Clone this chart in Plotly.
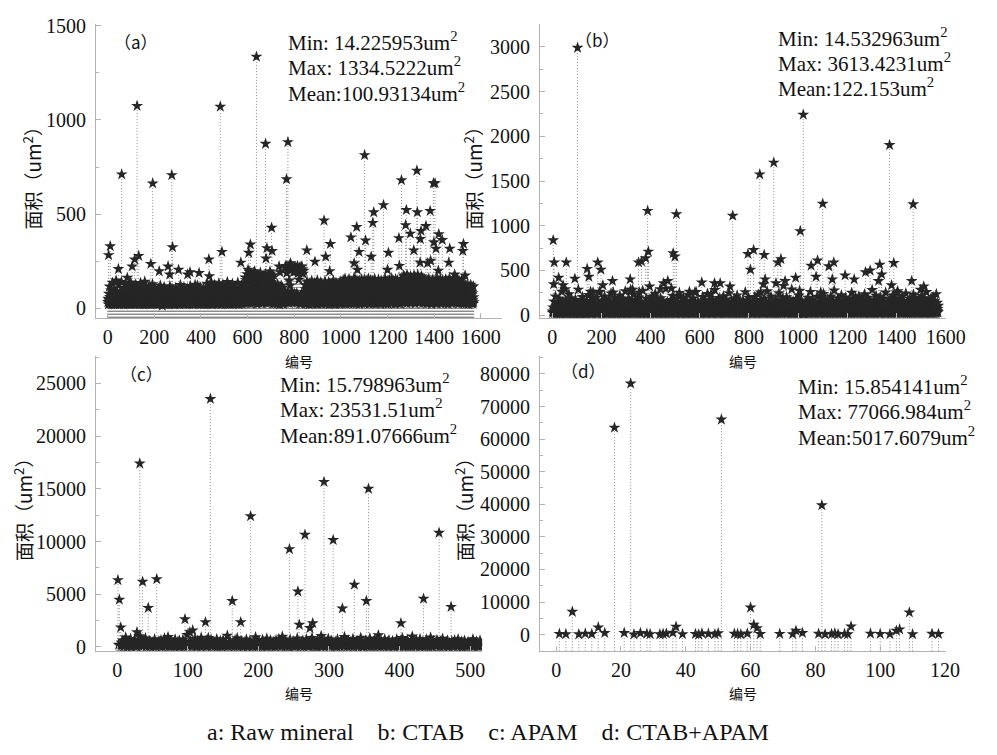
import plotly.graph_objects as go

W, H = 997, 755

# ---------------- (a) Raw mineral: particle areas (um^2) by particle number ----------------
a_large_id = [4, 11, 46, 60, 84, 105, 116, 126, 133, 185, 193, 221, 259, 266, 275, 278, 304, 343, 353, 392,
              434, 436, 483, 490, 571, 602, 605, 612, 630, 638, 677, 679, 683, 697, 703, 705, 735, 739, 767, 773,
              784, 833, 854, 889, 928, 935, 952, 955, 1043, 1057, 1068, 1071, 1078, 1102, 1106, 1130, 1137, 1141, 1183, 1200,
              1204, 1249, 1251, 1260, 1278, 1281, 1298, 1313, 1326, 1328, 1340, 1341, 1344, 1365, 1372, 1383, 1385, 1397, 1399, 1404,
              1408, 1418, 1420, 1435, 1463, 1467, 1488, 1523, 1526, 1533]
a_large_area = [283, 330, 209, 711, 163, 223, 260, 1074, 279, 236, 663, 197, 223, 180, 707, 325, 205, 180, 192, 188,
                260, 171, 1070, 300, 243, 205, 295, 339, 197, 1334.5222, 873, 265, 320, 180, 428, 305, 223, 192, 685, 882,
                240, 223, 308, 248, 466, 274, 197, 342, 377, 240, 432, 205, 300, 813, 360, 274, 454, 510, 548, 205,
                295, 373, 226, 680, 442, 522, 397, 308, 731, 510, 243, 368, 411, 437, 240, 517, 253, 664, 351, 664,
                317, 200, 394, 363, 243, 317, 180, 305, 342, 175]
a_small_area = [
    34, 52, 21, 78, 45, 29, 117, 38, 61, 26, 43, 95, 31, 57, 22, 70, 48, 136, 27, 40, 66, 33, 88, 24, 51, 39, 104, 28, 59, 42, 23, 74, 36, 148, 47, 30, 63, 25, 82, 44,
    27, 60, 39, 124, 31, 48, 22, 71, 53, 35, 92, 26, 45, 67, 30, 141, 41, 24, 56, 37, 83, 29, 50, 62, 21, 110, 43, 34, 76, 28, 54, 130, 38, 25, 65, 46, 99, 32, 58, 23,
    49, 33, 86, 27, 62, 40, 122, 24, 55, 36, 73, 29, 47, 138, 22, 59, 42, 90, 31, 68, 26, 52, 37, 115, 44, 28, 64, 35, 80, 23, 57, 41, 127, 30, 48, 70, 25, 96, 38, 53,
    30, 66, 44, 25, 103, 37, 58, 22, 79, 48, 32, 135, 27, 61, 40, 87, 29, 53, 24, 72, 45, 118, 34, 56, 21, 94, 39, 63, 28, 142, 46, 33, 69, 26, 50, 108, 36, 60, 23, 77,
    41, 28, 91, 35, 57, 24, 70, 46, 120, 31, 52, 38, 84, 27, 63, 22, 99, 43, 34, 66, 29, 128, 48, 25, 59, 37, 78, 30, 54, 42, 112, 26, 69, 33, 47, 23, 86, 39, 61, 32,
    55, 26, 74, 40, 31, 106, 47, 23, 64, 36, 88, 28, 50, 121, 34, 59, 25, 81, 43, 30, 68, 14.225953, 97, 38, 53, 27, 72, 45, 33, 114, 24, 58, 39, 85, 29, 62, 48, 22, 76, 35,
    28, 63, 42, 95, 25, 51, 34, 80, 46, 22, 67, 37, 118, 30, 56, 41, 89, 26, 60, 32, 104, 44, 23, 71, 38, 53, 27, 92, 35, 64, 48, 21, 83, 31, 57, 110, 40, 29, 69, 36,
    52, 24, 78, 39, 61, 30, 101, 45, 27, 66, 33, 87, 22, 55, 124, 38, 47, 29, 73, 42, 58, 25, 96, 36, 64, 31, 82, 44, 23, 113, 50, 34, 70, 27, 59, 40, 91, 26, 48, 37,
    66, 31, 49, 107, 25, 58, 38, 84, 29, 62, 43, 23, 75, 35, 119, 52, 27, 68, 40, 93, 30, 56, 24, 80, 46, 34, 64, 22, 102, 41, 57, 28, 72, 37, 50, 126, 26, 61, 33, 88,
    36, 59, 27, 83, 44, 122, 30, 54, 39, 71, 24, 97, 48, 33, 65, 28, 111, 42, 57, 23, 78, 35, 62, 26, 90, 45, 31, 68, 38, 105, 29, 52, 21, 74, 43, 60, 34, 87, 25, 49,
    44, 96, 32, 61, 27, 131, 48, 37, 75, 23, 58, 109, 40, 29, 84, 52, 35, 67, 25, 138, 43, 31, 70, 56, 22, 99, 38, 63, 28, 118, 47, 34, 80, 26, 55, 41, 125, 30, 66, 39,
    57, 25, 88, 42, 33, 116, 51, 28, 69, 37, 95, 24, 60, 45, 134, 31, 53, 27, 78, 40, 102, 35, 64, 22, 86, 49, 30, 72, 38, 127, 26, 58, 43, 91, 29, 66, 34, 110, 46, 23,
    36, 71, 28, 104, 47, 31, 62, 40, 140, 25, 55, 38, 83, 29, 67, 44, 23, 96, 52, 34, 76, 27, 119, 42, 58, 30, 89, 37, 63, 24, 131, 48, 33, 74, 26, 57, 41, 100, 32, 65,
    49, 26, 80, 39, 113, 30, 60, 45, 24, 92, 36, 68, 28, 137, 51, 33, 75, 41, 22, 107, 47, 35, 63, 27, 85, 43, 56, 31, 123, 38, 25, 70, 46, 98, 29, 61, 34, 79, 40, 54,
    58, 132, 35, 77, 164, 42, 96, 28, 150, 63, 110, 39, 181, 51, 86, 30, 143, 70, 45, 195, 33, 101, 57, 158, 26, 82, 124, 48, 67, 172, 37, 93, 54, 139, 29, 115, 61, 186, 41, 73,
    128, 44, 90, 31, 167, 59, 105, 36, 146, 68, 25, 119, 50, 177, 38, 84, 62, 136, 29, 98, 155, 47, 72, 34, 190, 56, 113, 40, 81, 160, 27, 65, 142, 52, 94, 32, 174, 60, 108, 43,
    79, 153, 35, 102, 64, 183, 46, 88, 28, 134, 71, 116, 39, 170, 55, 92, 30, 148, 66, 41, 126, 84, 196, 33, 75, 58, 141, 37, 99, 162, 49, 69, 26, 120, 87, 176, 44, 61, 131, 53,
    48, 27, 83, 39, 117, 31, 60, 44, 96, 25, 68, 36, 128, 52, 29, 74, 41, 105, 33, 57, 22, 90, 46, 64, 30, 121, 38, 55, 27, 82, 43, 110, 35, 62, 24, 93, 50, 71, 32, 58,
    95, 214, 46, 38, 71, 226, 38, 60, 187, 59, 33, 84, 34, 219, 52, 52, 41, 147, 28, 228, 66, 45, 122, 43, 210, 90, 58, 31, 224, 77, 37, 55, 207, 42, 40, 192, 67, 63, 215, 49,
    78, 61, 220, 49, 36, 199, 42, 57, 212, 80, 35, 42, 225, 68, 70, 188, 33, 55, 153, 48, 217, 47, 31, 26, 194, 58, 67, 221, 44, 76, 26, 58, 208, 42, 39, 184, 50, 74, 200, 53,
    41, 88, 30, 125, 53, 67, 24, 102, 45, 78, 35, 143, 58, 27, 93, 39, 116, 49, 33, 72, 22, 134, 61, 44, 85, 31, 108, 52, 28, 66, 37, 147, 47, 25, 80, 56, 120, 34, 70, 42,
    62, 29, 97, 43, 135, 36, 74, 51, 26, 111, 40, 83, 32, 58, 149, 46, 23, 90, 38, 69, 55, 127, 30, 77, 42, 100, 27, 64, 48, 139, 35, 86, 24, 59, 44, 118, 31, 73, 50, 37,
    84, 45, 28, 106, 57, 38, 145, 31, 68, 49, 92, 25, 61, 36, 123, 43, 76, 29, 54, 98, 34, 140, 47, 22, 71, 58, 113, 32, 80, 40, 26, 130, 52, 65, 37, 95, 27, 60, 46, 148,
    39, 70, 26, 115, 51, 33, 87, 44, 62, 23, 137, 48, 30, 79, 56, 103, 35, 66, 41, 28, 126, 53, 74, 37, 94, 24, 59, 45, 142, 31, 68, 50, 27, 109, 42, 83, 34, 57, 121, 29,
    55, 150, 33, 88, 46, 121, 28, 72, 62, 158, 39, 97, 51, 25, 134, 44, 80, 36, 112, 59, 30, 145, 67, 41, 92, 26, 156, 53, 75, 34, 126, 47, 63, 29, 104, 38, 141, 57, 84, 32,
    70, 42, 131, 27, 96, 54, 160, 35, 78, 48, 115, 30, 64, 152, 40, 86, 25, 123, 58, 37, 100, 45, 139, 31, 73, 61, 23, 147, 50, 91, 36, 118, 65, 28, 82, 155, 43, 69, 33, 107,
    48, 137, 31, 79, 60, 113, 38, 154, 26, 94, 52, 128, 41, 71, 34, 146, 57, 87, 29, 122, 45, 66, 159, 37, 101, 24, 76, 50, 133, 32, 89, 62, 150, 43, 28, 110, 56, 81, 39, 144,
    63, 27, 119, 47, 85, 35, 157, 58, 40, 98, 30, 141, 68, 25, 112, 53, 77, 36, 129, 44, 91, 33, 153, 61, 28, 104, 49, 73, 38, 136, 55, 23, 95, 42, 148, 31, 80, 59, 117, 46,
    35, 90, 56, 143, 29, 75, 44, 125, 62, 37, 158, 51, 83, 26, 114, 40, 69, 32, 139, 57, 96, 45, 24, 127, 66, 38, 151, 48, 86, 30, 108, 54, 134, 41, 72, 27, 160, 60, 93, 34,
    118, 43, 67, 31, 146, 52, 89, 36, 124, 58, 25, 101, 47, 155, 33, 78, 61, 132, 39, 84, 28, 149, 55, 71, 42, 115, 30, 97, 64, 138, 45, 24, 87, 50, 157, 37, 76, 59, 106, 34,
    152, 64, 102, 38, 175, 56, 129, 45, 87, 168, 31, 116, 72, 143, 49, 95, 27, 179, 60, 135, 41, 108, 83, 162, 35, 121, 67, 148, 52, 93, 29, 171, 76, 126, 44, 110, 58, 157, 39, 99,
    66, 140, 33, 113, 81, 176, 48, 97, 57, 131, 26, 164, 70, 105, 42, 150, 61, 89, 35, 178, 54, 123, 46, 85, 154, 30, 117, 74, 142, 51, 94, 37, 170, 63, 109, 44, 136, 28, 160, 78,
    47, 124, 62, 38, 156, 73, 95, 31, 137, 55, 110, 42, 83, 26, 149, 66, 35, 118, 51, 90, 40, 158, 60, 77, 29, 131, 48, 104, 36, 145, 70, 57, 23, 127, 44, 86, 153, 34, 99, 64,
    115, 39, 81, 52, 147, 30, 92, 68, 130, 45, 25, 159, 58, 101, 37, 76, 142, 49, 87, 32, 121, 63, 154, 41, 96, 27, 135, 55, 72, 43, 111, 34, 150, 61, 84, 29, 126, 47, 103, 38,
    71, 138, 46, 93, 28, 155, 59, 112, 36, 80, 50, 144, 33, 98, 65, 24, 129, 53, 86, 40, 160, 57, 107, 31, 74, 48, 140, 38, 91, 62, 119, 27, 151, 45, 79, 35, 133, 56, 100, 42,
    88, 33, 125, 54, 68, 148, 39, 96, 29, 134, 61, 78, 44, 157, 35, 109, 52, 26, 120, 70, 145, 41, 85, 58, 31, 139, 47, 99, 37, 116, 63, 153, 30, 82, 50, 128, 43, 74, 25, 106,
    49, 97, 31, 72, 122, 40, 61, 26, 108, 53, 84, 35, 129, 45, 67, 23, 93, 57, 38, 115, 29, 76, 50, 102, 34, 63, 126, 42, 88, 27, 70, 55, 111, 37, 81, 46, 24, 118, 59, 33,
]

# ---------------- (b) CTAB ----------------
b_large_id = [4, 6, 8, 26, 44, 53, 57, 92, 103, 142, 149, 156, 166, 185, 193, 198, 206, 245, 248, 317,
              319, 327, 351, 354, 363, 380, 388, 391, 396, 416, 439, 453, 470, 485, 492, 499, 505, 512, 558, 580,
              608, 631, 646, 660, 683, 703, 723, 734, 796, 806, 819, 844, 848, 859, 862, 866, 901, 910, 918, 930,
              941, 947, 990, 1006, 1009, 1021, 1053, 1073, 1079, 1092, 1100, 1125, 1139, 1145, 1191, 1228, 1274, 1293, 1327, 1332,
              1340, 1372, 1380, 1389, 1402, 1462, 1468, 1498, 1511, 1541]
b_large_area = [838, 346, 590, 419, 335, 292, 590, 408, 2990, 518, 430, 262, 255, 590, 262, 510, 335, 383, 255, 401,
                284, 284, 590, 255, 601, 638, 1167, 711, 321, 211, 292, 357, 383, 299, 693, 656, 1130, 219, 262, 255,
                365, 237, 237, 357, 357, 164, 321, 1112, 685, 510, 729, 1575, 255, 346, 674, 401, 1706, 357, 590, 627,
                328, 383, 419, 273, 940, 2242, 554, 430, 612, 255, 1247, 547, 401, 590, 445, 401, 481, 499, 383, 565,
                456, 1903, 335, 583, 248, 383, 1240, 284, 321, 190]
b_small_area = [
    42, 25, 88, 31, 153, 56, 22, 67, 38, 210, 47, 29, 104, 35, 61, 19, 78, 44, 132, 27, 53, 36, 94, 24, 185, 49, 33, 71, 21, 118, 58, 40, 26, 86, 262, 37, 64, 30, 141, 45,
    28, 75, 39, 112, 23, 57, 34, 168, 48, 26, 82, 41, 30, 96, 20, 63, 143, 37, 52, 25, 235, 44, 70, 32, 107, 27, 59, 38, 88, 22, 190, 46, 35, 66, 29, 124, 51, 24, 79, 43,
    60, 31, 99, 26, 48, 174, 37, 21, 72, 40, 131, 28, 55, 33, 89, 23, 286, 45, 64, 30, 116, 39, 20, 81, 50, 154, 27, 68, 36, 98, 25, 58, 42, 203, 32, 76, 22, 110, 47, 34,
    29, 85, 44, 137, 24, 62, 35, 93, 18, 53, 160, 40, 71, 27, 119, 46, 31, 226, 57, 23, 84, 38, 102, 26, 65, 42, 148, 30, 77, 21, 54, 183, 36, 90, 28, 69, 43, 127, 33, 59,
    47, 122, 30, 74, 38, 196, 25, 58, 42, 91, 22, 139, 52, 34, 67, 27, 253, 45, 80, 31, 108, 39, 19, 62, 48, 165, 29, 86, 36, 55, 24, 115, 41, 73, 32, 211, 50, 26, 97, 37,
    63, 28, 105, 43, 21, 150, 35, 69, 26, 92, 49, 32, 178, 57, 24, 83, 40, 128, 30, 61, 45, 244, 27, 76, 38, 100, 22, 56, 33, 141, 46, 29, 87, 39, 66, 20, 192, 51, 35, 79,
    31, 94, 52, 25, 117, 41, 70, 28, 162, 36, 58, 23, 99, 47, 34, 220, 60, 27, 81, 43, 135, 30, 65, 21, 109, 54, 38, 88, 26, 179, 44, 61, 32, 125, 24, 74, 48, 267, 35, 57,
    78, 36, 20, 103, 49, 146, 31, 64, 27, 91, 42, 187, 55, 25, 71, 38, 120, 29, 84, 46, 33, 157, 22, 68, 40, 98, 28, 230, 53, 36, 79, 24, 113, 44, 62, 30, 170, 37, 89, 26,
    52, 133, 33, 70, 23, 95, 45, 28, 199, 58, 37, 82, 26, 117, 48, 65, 21, 152, 40, 31, 90, 54, 274, 29, 73, 42, 106, 35, 60, 24, 138, 47, 79, 32, 57, 19, 184, 43, 97, 30,
    66, 24, 111, 39, 86, 27, 163, 50, 34, 75, 21, 129, 46, 61, 30, 207, 38, 92, 26, 56, 44, 145, 33, 81, 23, 100, 52, 36, 241, 28, 69, 41, 121, 25, 87, 48, 32, 175, 57, 35,
    29, 80, 47, 136, 22, 63, 38, 101, 31, 189, 54, 26, 74, 42, 114, 35, 58, 20, 158, 45, 30, 93, 27, 67, 50, 126, 36, 85, 24, 296, 43, 62, 33, 105, 28, 148, 55, 39, 72, 25,
    91, 40, 32, 123, 56, 27, 77, 44, 171, 34, 60, 23, 97, 48, 37, 216, 29, 83, 52, 26, 132, 41, 69, 31, 104, 21, 64, 46, 180, 35, 88, 28, 56, 43, 118, 30, 75, 38, 250, 49,
    34, 62, 25, 108, 45, 84, 30, 147, 51, 22, 72, 39, 96, 28, 198, 57, 36, 81, 26, 120, 47, 33, 66, 20, 166, 42, 91, 31, 58, 24, 137, 53, 37, 78, 27, 229, 44, 63, 35, 102,
    55, 28, 87, 41, 156, 32, 70, 48, 23, 115, 37, 62, 29, 187, 50, 35, 94, 26, 76, 43, 130, 31, 58, 21, 261, 46, 82, 34, 108, 27, 65, 40, 151, 30, 89, 52, 24, 119, 38, 71,
    43, 98, 30, 64, 22, 140, 49, 36, 85, 27, 204, 55, 33, 73, 41, 111, 25, 60, 45, 168, 31, 90, 38, 54, 20, 127, 47, 79, 29, 236, 36, 66, 28, 101, 50, 34, 143, 42, 75, 26,
    68, 35, 122, 47, 26, 84, 40, 177, 31, 59, 23, 105, 52, 37, 93, 28, 281, 44, 70, 33, 134, 25, 61, 49, 96, 30, 159, 39, 80, 21, 114, 46, 57, 27, 193, 36, 88, 42, 64, 32,
    24, 106, 51, 33, 76, 42, 145, 28, 62, 37, 212, 48, 26, 89, 35, 121, 53, 30, 67, 22, 173, 44, 81, 38, 103, 27, 58, 46, 138, 34, 74, 25, 247, 50, 92, 31, 65, 40, 117, 29,
    58, 37, 92, 25, 150, 46, 69, 32, 113, 41, 23, 183, 55, 78, 30, 99, 43, 65, 27, 128, 36, 52, 20, 222, 48, 85, 33, 61, 39, 142, 28, 74, 45, 107, 24, 166, 53, 36, 87, 31,
    46, 131, 29, 71, 39, 96, 22, 164, 52, 34, 80, 27, 119, 45, 60, 31, 258, 41, 75, 26, 104, 50, 36, 140, 23, 67, 48, 92, 30, 195, 43, 57, 35, 124, 28, 83, 40, 62, 25, 110,
    72, 31, 44, 156, 26, 89, 53, 36, 118, 24, 68, 41, 205, 33, 79, 47, 29, 101, 57, 38, 146, 22, 63, 45, 88, 30, 232, 51, 35, 74, 27, 128, 42, 61, 32, 172, 49, 84, 26, 97,
    38, 64, 27, 109, 46, 79, 33, 188, 55, 23, 92, 40, 135, 29, 70, 48, 35, 268, 43, 60, 25, 116, 52, 81, 31, 157, 37, 66, 21, 102, 45, 73, 30, 209, 50, 36, 87, 28, 124, 41,
    57, 25, 94, 42, 139, 31, 68, 48, 24, 176, 37, 83, 29, 111, 53, 34, 72, 20, 151, 44, 62, 32, 245, 39, 90, 27, 121, 50, 35, 76, 26, 163, 46, 58, 30, 98, 41, 193, 33, 65,
    44, 115, 30, 71, 52, 26, 148, 39, 85, 33, 202, 47, 61, 23, 106, 42, 77, 31, 134, 55, 28, 91, 36, 170, 45, 64, 24, 119, 38, 82, 29, 289, 50, 69, 34, 103, 27, 155, 43, 59,
    31, 87, 48, 25, 126, 40, 66, 33, 183, 54, 28, 97, 44, 73, 21, 144, 37, 60, 30, 219, 49, 84, 26, 112, 41, 58, 35, 166, 27, 78, 46, 100, 32, 137, 24, 70, 51, 14.532963, 94, 38,
    63, 34, 105, 45, 27, 160, 53, 80, 31, 123, 39, 57, 24, 195, 48, 71, 36, 92, 28, 140, 42, 65, 22, 261, 50, 86, 33, 114, 40, 60, 26, 175, 47, 76, 30, 99, 37, 131, 29, 68,
    45, 90, 26, 130, 52, 36, 77, 43, 207, 30, 63, 48, 25, 112, 38, 85, 32, 154, 56, 23, 96, 41, 69, 34, 185, 47, 28, 121, 54, 74, 31, 239, 39, 62, 27, 104, 49, 143, 35, 80,
    28, 69, 41, 118, 33, 59, 24, 172, 46, 88, 30, 101, 53, 37, 141, 27, 79, 44, 64, 21, 210, 50, 93, 35, 125, 42, 58, 29, 163, 38, 72, 25, 277, 48, 86, 32, 109, 45, 67, 36,
    97, 43, 30, 137, 55, 74, 26, 190, 40, 62, 34, 116, 49, 27, 84, 38, 150, 31, 68, 46, 23, 223, 52, 81, 35, 104, 29, 61, 42, 167, 33, 89, 25, 128, 47, 70, 37, 198, 30, 56,
    50, 28, 83, 39, 145, 32, 66, 54, 24, 119, 44, 78, 31, 182, 48, 36, 95, 27, 135, 41, 60, 22, 251, 46, 73, 34, 107, 52, 29, 158, 38, 87, 26, 123, 43, 63, 33, 201, 49, 71,
    35, 102, 47, 25, 76, 40, 160, 31, 58, 45, 212, 28, 89, 37, 120, 53, 23, 70, 42, 147, 33, 64, 50, 98, 27, 179, 39, 81, 30, 128, 46, 56, 24, 235, 41, 92, 32, 113, 48, 67,
    60, 37, 131, 29, 86, 44, 195, 34, 70, 52, 26, 108, 39, 152, 31, 75, 47, 22, 124, 41, 64, 35, 283, 50, 90, 27, 138, 43, 58, 30, 176, 38, 82, 25, 103, 46, 66, 33, 218, 54,
    41, 79, 28, 117, 49, 62, 35, 166, 26, 94, 43, 55, 31, 203, 47, 72, 24, 134, 38, 85, 30, 110, 52, 45, 187, 33, 67, 40, 142, 27, 98, 36, 57, 21, 254, 44, 76, 32, 121, 50,
    66, 30, 93, 42, 148, 25, 71, 38, 114, 53, 34, 178, 29, 84, 46, 62, 23, 129, 40, 97, 32, 221, 48, 75, 27, 155, 37, 60, 44, 106, 31, 191, 51, 80, 26, 139, 41, 58, 35, 268,
    47, 86, 33, 122, 56, 28, 69, 40, 171, 31, 95, 45, 24, 136, 52, 77, 36, 209, 29, 63, 43, 100, 34, 158, 48, 27, 82, 39, 125, 30, 61, 54, 244, 37, 90, 25, 115, 46, 72, 33,
    58, 35, 104, 27, 145, 49, 73, 32, 185, 44, 61, 26, 119, 38, 88, 51, 30, 164, 42, 67, 23, 231, 47, 94, 34, 132, 40, 59, 28, 197, 45, 79, 31, 108, 53, 36, 150, 26, 85, 43,
    70, 29, 127, 46, 55, 33, 173, 40, 92, 24, 113, 50, 36, 216, 31, 78, 44, 142, 27, 64, 39, 101, 52, 30, 186, 42, 83, 25, 120, 47, 68, 35, 259, 38, 96, 28, 135, 45, 60, 32,
    39, 91, 52, 28, 148, 43, 66, 34, 110, 24, 177, 49, 80, 31, 127, 45, 57, 26, 203, 37, 74, 41, 98, 29, 160, 54, 35, 118, 46, 62, 27, 236, 40, 86, 33, 139, 48, 71, 30, 106,
]

# ---------------- (c) APAM ----------------
c_large_id = [1, 3, 5, 28, 32, 33, 36, 44, 56, 96, 103, 107, 125, 129, 132, 163, 175, 189, 244, 256,
              258, 266, 273, 277, 293, 306, 319, 336, 353, 356, 402, 434, 456, 473]
c_large_area = [6343, 4486, 1856, 1392, 17400, 928, 6190, 3713, 6435, 2630, 1392, 1578, 2351, 866, 23531.51, 4362, 2351, 12407, 9282, 5260,
                2104, 10643, 1795, 2259, 15656, 10148, 3651, 5910, 4362, 15006, 2259, 4579, 10829, 3806]
c_small_area = [
    215, 87, 430, 156, 612, 48, 290, 133, 905, 371, 62, 248, 519, 104, 185, 766, 39, 322, 141, 458, 95, 677, 210, 53, 384, 168, 1020, 276, 71, 495, 127, 233, 840, 58, 347, 190, 112, 563, 82, 301,
    144, 418, 66, 259, 731, 120, 35, 391, 178, 550, 92, 283, 640, 151, 44, 472, 206, 813, 76, 329, 117, 262, 954, 57, 405, 163, 90, 597, 238, 129, 365, 41, 718, 195, 270, 84, 486, 137, 612, 73,
    358, 98, 227, 685, 149, 50, 433, 186, 1150, 81, 310, 124, 536, 219, 64, 402, 172, 775, 107, 264, 43, 591, 246, 132, 381, 70, 889, 158, 297, 95, 459, 201, 36, 627, 115, 343, 183, 702, 60, 254,
    173, 521, 88, 312, 140, 748, 54, 399, 221, 104, 583, 166, 46, 280, 670, 128, 367, 79, 441, 197, 1080, 62, 325, 147, 506, 235, 91, 413, 178, 38, 655, 119, 289, 840, 75, 360, 152, 232, 560, 99,
    296, 68, 448, 187, 121, 710, 40, 338, 255, 97, 603, 162, 376, 52, 487, 214, 135, 930, 83, 305, 176, 66, 541, 244, 110, 395, 47, 672, 193, 321, 85, 469, 139, 798, 59, 272, 208, 117, 626, 154,
    77, 386, 229, 519, 101, 44, 641, 170, 318, 93, 752, 205, 130, 427, 61, 984, 248, 159, 350, 72, 577, 184, 112, 463, 37, 695, 266, 143, 404, 87, 531, 199, 55, 340, 122, 821, 176, 290, 69, 443,
    125, 603, 48, 282, 167, 739, 94, 371, 222, 58, 512, 145, 864, 81, 297, 191, 108, 458, 40, 667, 237, 131, 394, 74, 1040, 161, 319, 96, 545, 212, 63, 427, 180, 786, 102, 253, 51, 610, 148, 336,
    207, 89, 481, 151, 34, 722, 269, 118, 397, 67, 585, 192, 303, 79, 951, 137, 426, 228, 56, 638, 174, 343, 95, 503, 247, 126, 772, 43, 361, 186, 109, 546, 71, 283, 420, 153, 877, 60, 315, 198,
    64, 432, 180, 602, 97, 263, 135, 815, 52, 372, 218, 115, 524, 72, 689, 241, 159, 410, 86, 1110, 189, 298, 45, 563, 227, 133, 380, 76, 741, 170, 354, 101, 480, 39, 651, 256, 143, 327, 92, 568,
    183, 57, 407, 251, 119, 736, 83, 336, 204, 48, 591, 166, 859, 107, 288, 224, 68, 449, 142, 677, 31, 374, 237, 129, 524, 80, 998, 193, 305, 111, 462, 55, 615, 215, 147, 390, 73, 748, 176, 271,
    91, 513, 164, 38, 352, 712, 127, 246, 63, 437, 198, 894, 105, 321, 54, 567, 230, 139, 401, 78, 660, 184, 292, 46, 529, 260, 117, 783, 66, 345, 208, 149, 485, 88, 622, 171, 42, 375, 236, 557,
    113, 286, 69, 644, 192, 137, 418, 52, 730, 223, 158, 366, 84, 507, 15.798963, 279, 130, 598, 61, 342, 205, 112, 471, 87, 269, 155, 402, 196, 58, 731, 240, 95, 388, 164, 522, 73, 301, 146, 47, 610,
]

# ---------------- (d) CTAB+APAM ----------------
d_id = [1, 3, 5, 7, 9, 11, 13, 15, 18, 21, 23, 24, 26, 28, 29, 32, 33, 34, 36, 37,
        39, 43, 44, 45, 47, 49, 50, 51, 55, 56, 57, 59, 60, 61, 62, 63, 69, 73, 74, 76,
        81, 82, 83, 85, 86, 87, 89, 90, 91, 97, 100, 103, 105, 106, 109, 110, 116, 118]
d_area = [230, 140, 7000, 90, 310, 180, 2200, 500, 63500, 520, 77066.984, 60, 480, 270, 150, 95, 210, 330, 560, 2400,
          140, 190, 15.854141, 360, 250, 120, 410, 66000, 280, 160, 60, 330, 8300, 3000, 2000, 170, 220, 130, 1200, 500,
          260, 39700, 110, 190, 380, 70, 230, 140, 2500, 300, 210, 120, 1200, 1600, 6800, 100, 260, 180]

panel_tags = ["（a）", "（b）", "（c）", "（d）"]
stat_lines = [
    ["Min: 14.225953um<sup>2</sup>", "Max: 1334.5222um<sup>2</sup>", "Mean:100.93134um<sup>2</sup>"],
    ["Min: 14.532963um<sup>2</sup>", "Max: 3613.4231um<sup>2</sup>", "Mean:122.153um<sup>2</sup>"],
    ["Min: 15.798963um<sup>2</sup>", "Max: 23531.51um<sup>2</sup>", "Mean:891.07666um<sup>2</sup>"],
    ["Min: 15.854141um<sup>2</sup>", "Max: 77066.984um<sup>2</sup>", "Mean:5017.6079um<sup>2</sup>"],
]
caption = "a: Raw mineral\u00a0\u00a0\u00a0 b: CTAB\u00a0\u00a0\u00a0 c: APAM\u00a0\u00a0\u00a0 d: CTAB+APAM"
y_title = "面积（um<sup>2</sup>）"
x_title = "编号"


def number_particles(large_id, large_area, small_area):
    """Interleave the listed large particles with the remaining ones in numbering order."""
    big = dict(zip(large_id, large_area))
    rest = iter(small_area)
    n = len(large_id) + len(small_area)
    ids, vals = [], []
    for i in range(1, n + 1):
        v = big[i] if i in big else next(rest, None)
        if v is None:
            continue
        ids.append(i)
        vals.append(v)
    return ids, vals


series = [
    number_particles(a_large_id, a_large_area, a_small_area),
    number_particles(b_large_id, b_large_area, b_small_area),
    number_particles(c_large_id, c_large_area, c_small_area),
    (d_id, d_area),
]

# layout of the four panels (pixel boxes) and axis scales
panels = [
    dict(box=(98, 512, 15, 316), xr=[-50, 1690], yr=[-50, 1510], xd=200, yd=500,
         tag=(139, 33), stat=(292, [33, 59, 85]), yt=(33, 168), xt=(305, 360)),
    dict(box=(551, 965, 15, 316), xr=[-50, 1600], yr=[-30, 3260], xd=200, yd=500,
         tag=(610, 31), stat=(792, [29, 55, 80]), yt=(483, 168), xt=(758, 360)),
    dict(box=(98, 492, 355, 657), xr=[-30, 517], yr=[-400, 27600], xd=100, yd=5000,
         tag=(144, 373), stat=(284, [383, 409, 435]), yt=(23, 507), xt=(305, 700)),
    dict(box=(551, 965, 355, 657), xr=[-5, 120.2], yr=[-5100, 85500], xd=20, yd=10000,
         tag=(595, 370), stat=(812, [385, 411, 437]), yt=(473, 507), xt=(758, 700)),
]

AX = "#b3b3b3"
TICKFONT = dict(family="Liberation Serif", size=20, color="#111")

fig = go.Figure()
layout = dict(width=W, height=H, margin=dict(l=0, r=0, t=0, b=0),
              paper_bgcolor="white", plot_bgcolor="white", showlegend=False)
annotations = []


def px(x):
    return x / W


def py(y):
    return 1 - y / H


for k, (p, (ids, vals)) in enumerate(zip(panels, series)):
    n = "" if k == 0 else str(k + 1)
    x0, x1, y0, y1 = p["box"]
    base = p["yr"][0]
    # dotted drop lines from each particle down to the x axis
    lx, ly = [], []
    for i, v in zip(ids, vals):
        lx += [i, i, None]
        ly += [base, v, None]
    fig.add_trace(go.Scatter(x=lx, y=ly, mode="lines", xaxis="x" + n, yaxis="y" + n,
                             line=dict(color="#8a8a8a", width=1, dash="1px,2px"),
                             hoverinfo="skip"))
    fig.add_trace(go.Scatter(x=ids, y=vals, mode="markers", xaxis="x" + n, yaxis="y" + n,
                             marker=dict(symbol="star", size=9, color="#262626",
                                         line=dict(width=0))))
    common = dict(showline=True, linecolor=AX, linewidth=1, ticks="inside", ticklen=5,
                  tickcolor=AX, tickwidth=1, showgrid=False, zeroline=False,
                  tickfont=TICKFONT, tick0=0, exponentformat="none", separatethousands=False,
                  tickformat="d")
    layout["xaxis" + n] = dict(common, domain=[px(x0), px(x1)], range=p["xr"], dtick=p["xd"],
                               anchor="y" + n, ticklabelstandoff=1)
    layout["yaxis" + n] = dict(common, domain=[py(y1), py(y0)], range=p["yr"], dtick=p["yd"],
                               anchor="x" + n, ticklabelstandoff=5,
                               minor=dict(ticks="inside", ticklen=3, tickcolor=AX,
                                          dtick=p["yd"] / 2, tick0=0))
    tx, ty = p["tag"]
    annotations.append(dict(text=panel_tags[k], x=px(tx), y=py(ty), xref="paper", yref="paper",
                            xanchor="center", yanchor="middle", showarrow=False,
                            font=dict(family="Noto Sans CJK SC", size=17, color="#111")))
    sx, sys_ = p["stat"]
    for line, yy in zip(stat_lines[k], sys_):
        annotations.append(dict(text=line, x=px(sx), y=py(yy), xref="paper", yref="paper",
                                xanchor="left", yanchor="middle", showarrow=False,
                                font=dict(family="Liberation Serif", size=21, color="#111")))
    yx, yy = p["yt"]
    annotations.append(dict(text=y_title, x=px(yx), y=py(yy), xref="paper", yref="paper",
                            xanchor="center", yanchor="middle", textangle=-90, showarrow=False,
                            font=dict(family="Noto Sans CJK SC", size=19, color="#111")))
    xx, xy = p["xt"]
    annotations.append(dict(text=x_title, x=px(xx), y=py(xy), xref="paper", yref="paper",
                            xanchor="center", yanchor="middle", showarrow=False,
                            font=dict(family="Noto Sans CJK SC", size=14, color="#111")))

annotations.append(dict(text=caption, x=px(498), y=py(740), xref="paper", yref="paper",
                        xanchor="center", yanchor="middle", showarrow=False,
                        font=dict(family="Liberation Serif", size=24, color="#111")))
layout["annotations"] = annotations
fig.update_layout(**layout)
fig.write_html("out.html")
